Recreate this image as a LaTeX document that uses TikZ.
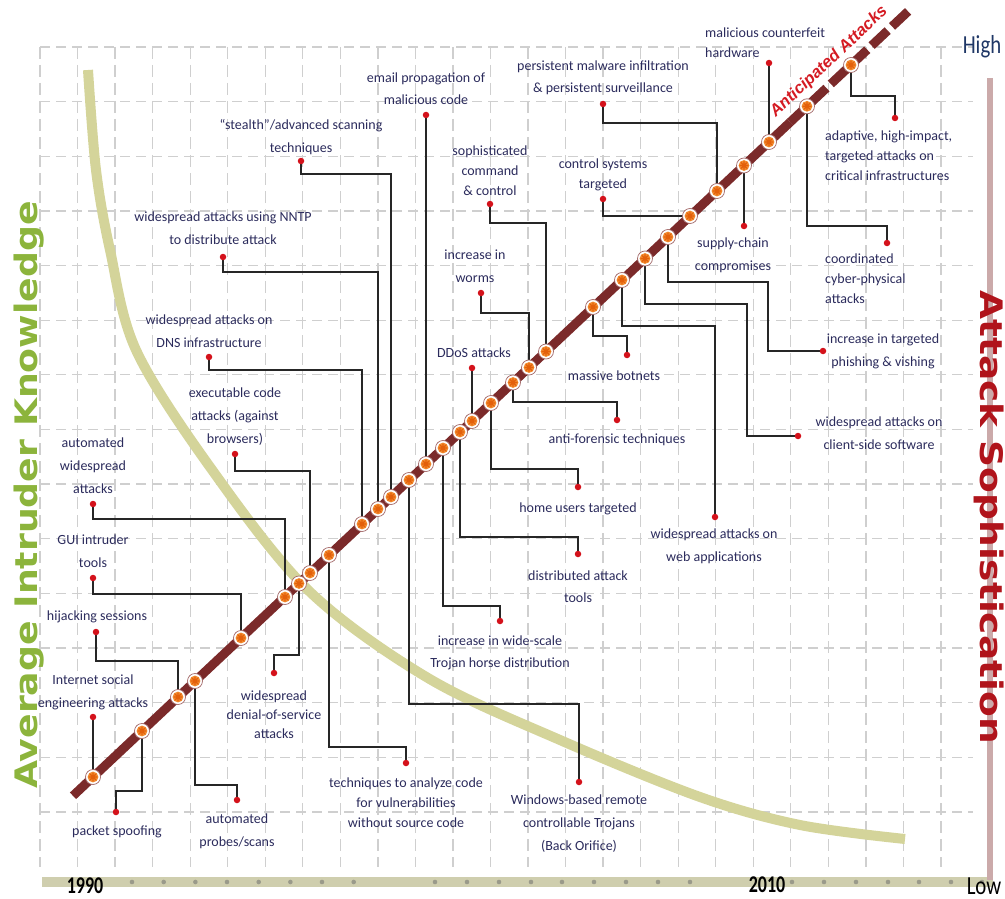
\documentclass[tikz,border=0pt]{standalone}
\usepackage{fontspec}
\setmainfont{Carlito}
\newfontfamily\axisfont{DejaVu Sans}
\newfontfamily\tagfont{Liberation Sans}
\usetikzlibrary{calc}
\pgfdeclarelayer{back}
\pgfdeclarelayer{wires}
\pgfdeclarelayer{trunk}
\pgfsetlayers{back,wires,trunk,main}

\definecolor{gridgray}{HTML}{CFCFCF}
\definecolor{khaki}{HTML}{D4D49A}
\definecolor{barkhaki}{HTML}{CFCEAE}
\definecolor{tickdot}{HTML}{9A9A8A}
\definecolor{brownline}{HTML}{7B2A2A}
\definecolor{labelblue}{HTML}{2B2B5C}
\definecolor{dotred}{HTML}{D4121B}
\definecolor{mkorange}{HTML}{F28A2E}
\definecolor{mkstar}{HTML}{E3600B}
\definecolor{knowgreen}{HTML}{8CB43C}
\definecolor{sophred}{HTML}{B0141B}
\definecolor{sophbar}{HTML}{CBAAAA}
\definecolor{highblue}{HTML}{1F3766}
\definecolor{antred}{HTML}{D41A22}

\begin{document}
\begin{tikzpicture}[x=1pt,y=-1pt,
  lbl/.style={font=\fontsize{14}{23}\selectfont, text=labelblue, align=center, inner sep=0pt},
  lbl22/.style={lbl, font=\fontsize{14}{22}\selectfont},
  lbl20/.style={lbl, font=\fontsize{14}{20}\selectfont},
  lbl19/.style={lbl, font=\fontsize{14}{19}\selectfont},
  lblw/.style={lbl20, align=left, anchor=west},
  mk/.style={circle, minimum size=15pt, inner sep=0pt, fill=white,
    draw=brownline!70, line width=0.7pt,
    path picture={
      \fill[mkorange] (path picture bounding box.center) circle (5.4pt);
      \fill[mkstar, shift={(path picture bounding box.center)}]
        plot[domain=0:360, samples=97, variable=\t]
        ({(3.2+1.4*cos(8*\t))*cos(\t)}, {(3.2+1.4*cos(8*\t))*sin(\t)}) -- cycle;
    }},
  dt/.style={circle, fill=dotred, minimum size=6.5pt, inner sep=0pt},
  conn/.style={draw=black!85, line width=1.6pt},
  gridv/.style={gridgray, line width=1.3pt, dash pattern=on 12pt off 6pt},
  gridh/.style={gridgray, line width=1.3pt, dash pattern=on 10pt off 6pt},
  axisword/.style={inner sep=0pt, font=\axisfont\bfseries\fontsize{31}{31}\selectfont}]

\useasboundingbox (0,0) rectangle (1005,899);

% ---------- background: grid, axes, knowledge curve ----------
\begin{pgfonlayer}{back}
  \foreach \i in {0,...,24}
    \draw[gridv] ({40+37.54*\i},47) -- ({40+37.54*\i},867);
  \foreach \j in {0,...,14}
    \draw[gridh] (40,{47+54.64*\j}) -- (973,{47+54.64*\j});
  % time axis
  \draw[barkhaki, line width=10pt] (42,882) -- (993,882);
  \foreach \x in {132,163.7,195.4,227,258.7,290.4,322,353.7,
                  435,467,499,531,562,594,626,658,690,
                  792,824,856,888,919,951,982}
    \fill[tickdot] (\x,882) circle (2.3);
  % sophistication axis
  \draw[sophbar, line width=6pt] (990,78) -- (990,880);
  % average intruder knowledge
  \draw[khaki, line width=10pt] plot[smooth, tension=0.55] coordinates
    {(88,70) (96,170) (110,250) (136,350) (210,467) (308,590) (428,678)
     (560,740) (700,797) (800,825) (905,839)};
\end{pgfonlayer}

% ---------- attack sophistication trend ----------
\begin{pgfonlayer}{trunk}
  \draw[brownline, line width=9pt] (73,795.8) -- (790,122.3);
  \draw[brownline, line width=9pt, dash pattern=on 22pt off 6pt] (790,122.3) -- (909,10.5);
\end{pgfonlayer}

% ---------- events on the trend ----------
\node[mk] (m1) at (93,777) {};
\node[mk] (m2) at (142,731) {};
\node[mk] (m3) at (178,697) {};
\node[mk] (m4) at (195,681) {};
\node[mk] (m5) at (241,638) {};
\node[mk] (m6) at (285,597) {};
\node[mk] (m7) at (299,583.5) {};
\node[mk] (m8) at (310,573) {};
\node[mk] (m9) at (329,555) {};
\node[mk] (m10) at (362,524) {};
\node[mk] (m11) at (378,509) {};
\node[mk] (m12) at (391,497) {};
\node[mk] (m13) at (409,480) {};
\node[mk] (m14) at (426,464) {};
\node[mk] (m15) at (443,448) {};
\node[mk] (m16) at (460,432) {};
\node[mk] (m17) at (472,421) {};
\node[mk] (m18) at (491,403) {};
\node[mk] (m19) at (513,382.5) {};
\node[mk] (m20) at (529,367.5) {};
\node[mk] (m21) at (546,351.5) {};
\node[mk] (m22) at (593,307) {};
\node[mk] (m23) at (622,280) {};
\node[mk] (m24) at (645,258.5) {};
\node[mk] (m25) at (668,237) {};
\node[mk] (m26) at (690,216) {};
\node[mk] (m27) at (717,191) {};
\node[mk] (m28) at (744,165.5) {};
\node[mk] (m29) at (769,142) {};
\node[mk] (m30) at (807,106.3) {};
\node[mk] (m31) at (851,65) {};

% ---------- label dots ----------
\node[dt] (d1) at (93,717) {};
\node[dt] (d2) at (116,812) {};
\node[dt] (d3) at (96,632) {};
\node[dt] (d4) at (237,800) {};
\node[dt] (d5) at (93,578) {};
\node[dt] (d6) at (93,504) {};
\node[dt] (d7) at (274,673) {};
\node[dt] (d8) at (235,454) {};
\node[dt] (d9) at (406,763) {};
\node[dt] (d10) at (209,357) {};
\node[dt] (d11) at (223,257) {};
\node[dt] (d12) at (301,161) {};
\node[dt] (d13) at (579,782) {};
\node[dt] (d14) at (426,115) {};
\node[dt] (d15) at (500,621) {};
\node[dt] (d16) at (578,554) {};
\node[dt] (d17) at (472,368) {};
\node[dt] (d18) at (578,487) {};
\node[dt] (d19) at (617,420) {};
\node[dt] (d20) at (481,293) {};
\node[dt] (d21) at (490,204) {};
\node[dt] (d22) at (627,355) {};
\node[dt] (d23) at (715,517) {};
\node[dt] (d24) at (798,436) {};
\node[dt] (d25) at (823,351) {};
\node[dt] (d26) at (603,199) {};
\node[dt] (d27) at (603,104) {};
\node[dt] (d28) at (744,226) {};
\node[dt] (d29) at (769,63) {};
\node[dt] (d30) at (887,243) {};
\node[dt] (d31) at (895,118) {};

% ---------- leader lines ----------
\begin{pgfonlayer}{wires}
  \draw[conn] (m1.center) -- (d1.center);
  \draw[conn] (m2.center) |- (116,791) -- (d2.center);
  \draw[conn] (m3.center) |- (96,661) -- (d3.center);
  \draw[conn] (m4.center) |- (237,785) -- (d4.center);
  \draw[conn] (m5.center) |- (93,594) -- (d5.center);
  \draw[conn] (m6.center) |- (93,519) -- (d6.center);
  \draw[conn] (m7.center) |- (274,655) -- (d7.center);
  \draw[conn] (m8.center) |- (235,471) -- (d8.center);
  \draw[conn] (m9.center) |- (406,747) -- (d9.center);
  \draw[conn] (m10.center) |- (209,370) -- (d10.center);
  \draw[conn] (m11.center) |- (223,272) -- (d11.center);
  \draw[conn] (m12.center) |- (301,174) -- (d12.center);
  \draw[conn] (m13.center) |- (579,704) -- (d13.center);
  \draw[conn] (m14.center) -- (d14.center);
  \draw[conn] (m15.center) |- (500,606) -- (d15.center);
  \draw[conn] (m16.center) |- (578,537) -- (d16.center);
  \draw[conn] (m17.center) -- (d17.center);
  \draw[conn] (m18.center) |- (578,469) -- (d18.center);
  \draw[conn] (m19.center) |- (617,402) -- (d19.center);
  \draw[conn] (m20.center) |- (481,313) -- (d20.center);
  \draw[conn] (m21.center) |- (490,223) -- (d21.center);
  \draw[conn] (m22.center) |- (627,336) -- (d22.center);
  \draw[conn] (m23.center) |- (715,326) -- (d23.center);
  \draw[conn] (m24.center) |- (747,304) |- (d24.center);
  \draw[conn] (m25.center) |- (768,282) |- (d25.center);
  \draw[conn] (m26.center) -| (d26.center);
  \draw[conn] (m27.center) |- (603,123) -- (d27.center);
  \draw[conn] (m28.center) -- (d28.center);
  \draw[conn] (m29.center) -- (d29.center);
  \draw[conn] (m30.center) |- (887,226) -- (d30.center);
  \draw[conn] (m31.center) |- (895,96) -- (d31.center);
\end{pgfonlayer}

% ---------- event labels ----------
\node[lbl] (l1) at (93,692) {Internet social\\engineering attacks};
\node[lbl] (l2) at (117,832) {packet spoofing};
\node[lbl] (l3) at (97,617) {hijacking sessions};
\node[lbl] (l4) at (237,831) {automated\\probes/scans};
\node[lbl] (l5) at (93,551) {GUI intruder\\tools};
\node[lbl] (l6) at (93,466) {automated\\widespread\\attacks};
\node[lbl19] (l7) at (274,715) {widespread\\denial-of-service\\attacks};
\node[lbl] (l8) at (235,417) {executable code\\attacks (against\\browsers)};
\node[lbl20] (l9) at (406,803) {techniques to analyze code\\for vulnerabilities\\without source code};
\node[lbl] (l10) at (209,331) {widespread attacks on\\DNS infrastructure};
\node[lbl] (l11) at (223,228) {widespread attacks using NNTP\\to distribute attack};
\node[lbl] (l12) at (301,137) {“stealth”/advanced scanning\\techniques};
\node[lbl] (l13) at (579,824) {Windows-based remote\\controllable Trojans\\(Back Orifice)};
\node[lbl22] (l14) at (426,89) {email propagation of\\malicious code};
\node[lbl22] (l15) at (500,653) {increase in wide-scale\\Trojan horse distribution};
\node[lbl22] (l16) at (578,587) {distributed attack\\tools};
\node[lbl] (l17) at (474,353) {DDoS attacks};
\node[lbl] (l18) at (578,509) {home users targeted};
\node[lbl] (l19) at (617,440) {anti-forensic techniques};
\node[lbl] (l20) at (475,266) {increase in\\worms};
\node[lbl20] (l21) at (490,171) {sophisticated\\command\\\& control};
\node[lbl] (l22) at (614,376) {massive botnets};
\node[lbl] (l23) at (714,546) {widespread attacks on\\web applications};
\node[lbl] (l24) at (879,433) {widespread attacks on\\client-side software};
\node[lbl] (l25) at (883,351) {increase in targeted\\phishing \& vishing};
\node[lbl20] (l26) at (603,175) {control systems\\targeted};
\node[lbl22] (l27) at (603,78) {persistent malware infiltration\\\& persistent surveillance};
\node[lbl] (l28) at (733,255) {supply-chain\\compromises};
\node[lblw] (l29) at (705,43) {malicious counterfeit\\hardware};
\node[lblw] (l30) at (825,279) {coordinated\\cyber-physical\\attacks};
\node[lblw] (l31) at (825,156) {adaptive, high-impact,\\targeted attacks on\\critical infrastructures};

% ---------- axis titles ----------
\node[axisword, text=knowgreen, rotate=90] (know) at (29,495)
  {\scalebox{1.17}[1]{Average Intruder Knowledge}};
\node[axisword, text=sophred, rotate=-90] (soph) at (989,517)
  {\scalebox{1.21}[1]{Attack Sophistication}};
\node[inner sep=0pt, text=antred, rotate=43.2,
      font=\tagfont\bfseries\itshape\fontsize{16.5}{16.5}\selectfont] (ant) at (829,62)
  {Anticipated Attacks};
\node[inner sep=0pt, text=highblue, font=\fontsize{26}{26}\selectfont] (high) at (982,47)
  {\scalebox{0.8}[1]{High}};
\node[inner sep=0pt, text=black, font=\fontsize{26}{26}\selectfont] (low) at (984,886)
  {\scalebox{0.8}[1]{Low}};
\node[inner sep=0pt, text=black, font=\bfseries\fontsize{24}{24}\selectfont] (y1990) at (85,886)
  {\scalebox{0.75}[1]{1990}};
\node[inner sep=0pt, text=black, font=\bfseries\fontsize{24}{24}\selectfont] (y2010) at (767,885)
  {\scalebox{0.75}[1]{2010}};

\end{tikzpicture}
\end{document}
